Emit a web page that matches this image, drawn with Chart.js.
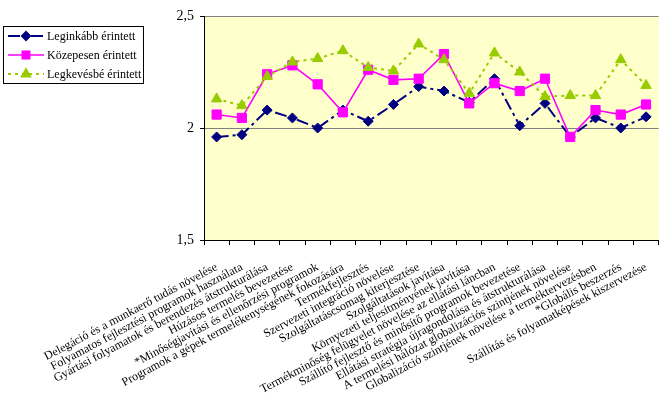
<!DOCTYPE html>
<html>
<head>
<meta charset="utf-8">
<script src="https://cdn.jsdelivr.net/npm/chart.js@4/dist/chart.umd.min.js"></script>
<style>
html,body{margin:0;padding:0;overflow:hidden;background:#fff;width:664px;height:405px;}
canvas{display:block;}
</style>
</head>
<body>
<canvas id="c" width="668" height="405" style="width:668px;height:405px"></canvas>
<script>
const categories = [
  "Delegáció és a munkaerő tudás növelése",
  "Folyamatos fejlesztési programok használata",
  "Gyártási folyamatok és berendezés átstrukturálása",
  "Húzásos termelés bevezetése",
  "*Minőségjavítási és ellenőrzési programok",
  "Programok a gépek termelékenységének fokozására",
  "Termékfejlesztés",
  "Szervezeti integráció növelése",
  "Szolgáltatáscsomag kiterjesztése",
  "Szolgáltatások javítása",
  "Környezeti teljesítményének javítása",
  "Termékminőség felügyelet növelése az ellátási láncban",
  "Szállító fejlesztő és minősítő programok bevezetése",
  "Ellátási stratégia újragondolása és átstrukturálása",
  "A termelési hálózat globalizációs szintjének növelése",
  "Globalizáció szintjének növelése a terméktervezésben",
  "*Globális beszerzés",
  "Szállítás és folyamatképések kiszervezése"
];
const seriesNames = ["Leginkább érintett", "Közepesen érintett", "Legkevésbé érintett"];
const leginkabb = [1.96, 1.97, 2.08, 2.045, 2.00, 2.08, 2.03, 2.105, 2.185, 2.165, 2.115, 2.22, 2.01, 2.11, 1.96, 2.045, 2.00, 2.05];
const kozepesen = [2.06, 2.045, 2.24, 2.28, 2.195, 2.07, 2.26, 2.215, 2.22, 2.33, 2.11, 2.20, 2.165, 2.22, 1.96, 2.08, 2.06, 2.105];
const legkevesbe = [2.13, 2.10, 2.23, 2.295, 2.31, 2.345, 2.27, 2.255, 2.375, 2.305, 2.155, 2.335, 2.25, 2.14, 2.145, 2.145, 2.305, 2.19];
const yTicks = [1.5, 2, 2.5];

const styles = [
  {color:"#000080", dash:[12,4,3,4], point:"rectRot", radius:5, width:2},
  {color:"#FF00FF", dash:[], point:"rect", radius:6.5, width:1.6},
  {color:"#99CC00", dash:[3,4], point:"triangle", radius:6, width:2}
];
const seriesData = [leginkabb, kozepesen, legkevesbe];

const bgPlugin = {
  id:"bg",
  beforeDraw(chart){
    const {ctx, chartArea:a} = chart;
    ctx.save();
    ctx.fillStyle = "#FFFFCC";
    ctx.fillRect(a.left, a.top, a.right - a.left, a.bottom - a.top);
    ctx.restore();
  }
};

const legendPlugin = {
  id:"customLegend",
  afterDraw(chart){
    const ctx = chart.ctx;
    ctx.save();
    const x0 = 3.5, y0 = 26.5, w = 140, h = 57;
    ctx.fillStyle = "#fff";
    ctx.fillRect(x0, y0, w, h);
    ctx.strokeStyle = "#000";
    ctx.lineWidth = 1;
    ctx.setLineDash([]);
    ctx.strokeRect(x0, y0, w, h);
    ctx.font = "12px 'Liberation Serif', 'Times New Roman', serif";
    ctx.textBaseline = "middle";
    for (let i = 0; i < 3; i++) {
      const s = styles[i];
      const y = 36 + i * 19;
      ctx.strokeStyle = s.color;
      ctx.lineWidth = s.width;
      ctx.setLineDash(s.dash);
      ctx.beginPath();
      ctx.moveTo(8, y);
      ctx.lineTo(44, y);
      ctx.stroke();
      ctx.setLineDash([]);
      ctx.fillStyle = s.color;
      ctx.strokeStyle = s.color;
      Chart.helpers.drawPoint(ctx, {pointStyle:s.point, radius:s.radius*0.8, borderWidth:1}, 26, y);
      ctx.fillStyle = "#000";
      ctx.fillText(seriesNames[i], 47, y + 1);
    }
    ctx.restore();
  }
};

const datasets = seriesData.map((d, i) => ({
  label: seriesNames[i],
  data: d,
  borderColor: styles[i].color,
  backgroundColor: styles[i].color,
  borderWidth: styles[i].width,
  borderDash: styles[i].dash,
  pointStyle: styles[i].point,
  pointRadius: styles[i].radius,
  pointBorderWidth: 1,
  pointBackgroundColor: styles[i].color,
  pointBorderColor: styles[i].color,
  tension: 0,
  fill: false,
  order: 2 - i
}));

new Chart(document.getElementById("c"), {
  type: "line",
  data: { labels: categories, datasets },
  plugins: [bgPlugin, legendPlugin],
  options: {
    responsive: false,
    animation: false,
    devicePixelRatio: 1,
    layout: { padding: { top: 16, left: 0, right: 0, bottom: 0 } },
    plugins: { legend: { display: false }, tooltip: { enabled: false } },
    scales: {
      x: {
        offset: true,
        grid: { offset: true, drawOnChartArea: false, drawTicks: true, tickLength: 5, color: "#000", tickColor: "#000" },
        border: { color: "#000", width: 1 },
        ticks: {
          autoSkip: false,
          maxRotation: 28,
          minRotation: 28,
          padding: 15,
          color: "#000",
          font: { family: "'Liberation Serif', 'Times New Roman', serif", size: 12 }
        },
        afterFit(scale){ scale.height = 165; }
      },
      y: {
        min: 1.5,
        max: 2.5,
        afterBuildTicks(scale){ scale.ticks = yTicks.map(v => ({value:v})); },
        grid: { color: "#808080", tickColor: "#000", tickLength: 4, lineWidth: 1 },
        border: { color: "#000", width: 1 },
        ticks: {
          color: "#000",
          padding: 6,
          font: { family: "'Liberation Serif', 'Times New Roman', serif", size: 14 },
          callback: v => String(v).replace(".", ",")
        },
        afterFit(scale){ scale.width = 204; }
      }
    }
  }
});
</script>
</body>
</html>
